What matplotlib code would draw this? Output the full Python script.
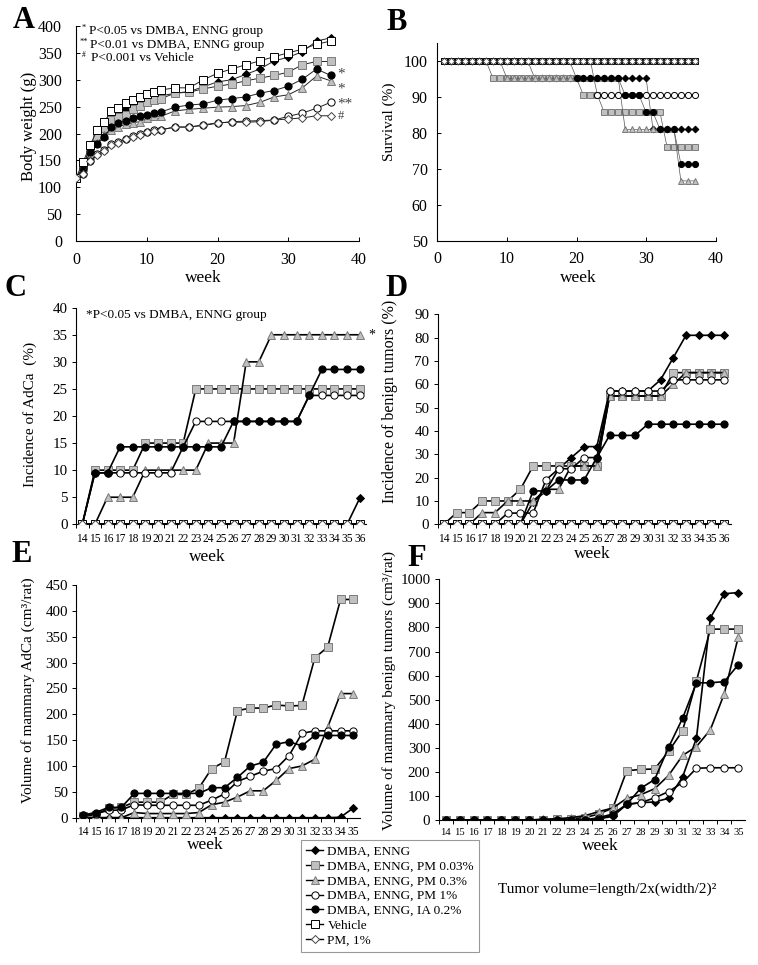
import matplotlib
matplotlib.use("Agg")
import matplotlib.pyplot as plt
from matplotlib.lines import Line2D

plt.rcParams['font.family'] = ['Liberation Serif', 'DejaVu Serif']

W, H = 758, 965

groups = ["DMBA, ENNG", "DMBA, ENNG, PM 0.03%", "DMBA, ENNG, PM 0.3%",
          "DMBA, ENNG, PM 1%", "DMBA, ENNG, IA 0.2%", "Vehicle", "PM, 1%"]

# ---------------- Panel A: body weight ----------------
weeks_a = [0, 1, 2, 3, 4, 5, 6, 7, 8, 9, 10, 11, 12, 14, 16, 18, 20, 22, 24, 26, 28, 30, 32, 34, 36]
bw_dmba = [117, 135, 178, 200, 215, 232, 238, 245, 252, 258, 262, 268, 270, 275, 278, 287, 296, 300, 310, 320, 335, 342, 352, 372, 378]
bw_pm003 = [117, 138, 175, 195, 210, 225, 230, 235, 245, 252, 258, 263, 265, 275, 277, 283, 288, 292, 298, 303, 308, 314, 328, 334, 334]
bw_pm03 = [117, 133, 160, 182, 198, 207, 212, 217, 220, 222, 228, 232, 232, 242, 245, 247, 249, 250, 252, 258, 268, 272, 285, 307, 298]
bw_pm1 = [117, 125, 148, 162, 170, 180, 185, 190, 195, 200, 203, 206, 207, 212, 212, 215, 219, 222, 223, 224, 225, 232, 238, 247, 258]
bw_ia = [117, 135, 165, 180, 193, 213, 220, 223, 228, 232, 235, 238, 240, 249, 253, 255, 262, 265, 268, 275, 280, 288, 301, 320, 308]
bw_vehicle = [117, 147, 178, 207, 222, 242, 247, 257, 262, 268, 273, 278, 281, 285, 285, 300, 312, 320, 328, 335, 343, 350, 357, 366, 372]
bw_pm = [117, 125, 148, 160, 168, 178, 183, 190, 193, 198, 202, 205, 207, 212, 212, 216, 220, 221, 221, 222, 225, 227, 229, 233, 233]

# ---------------- Panel B: survival ----------------
weeks_b = list(range(1, 38))
surv_dmba = [100, 100, 100, 100, 100, 100, 100, 100, 100, 100, 100, 100, 100,
             95.2, 95.2, 95.2, 95.2, 95.2, 95.2, 95.2, 95.2, 95.2, 95.2, 95.2, 95.2, 95.2, 95.2, 95.2, 95.2, 95.2,
             81.0, 81.0, 81.0, 81.0, 81.0, 81.0, 81.0]
surv_pm003 = [100, 100, 100, 100, 100, 100, 100,
              95.2, 95.2, 95.2, 95.2, 95.2, 95.2, 95.2, 95.2, 95.2, 95.2, 95.2, 95.2, 95.2,
              90.5, 90.5, 90.5,
              85.7, 85.7, 85.7, 85.7, 85.7, 85.7, 85.7, 85.7, 85.7,
              76.2, 76.2, 76.2, 76.2, 76.2]
surv_pm03 = [100, 100, 100, 100, 100, 100, 100, 100, 100,
             95.2, 95.2, 95.2, 95.2, 95.2, 95.2, 95.2, 95.2, 95.2, 95.2, 95.2, 95.2, 95.2, 95.2, 95.2, 95.2, 95.2,
             81.0, 81.0, 81.0, 81.0, 81.0, 81.0, 81.0, 81.0,
             66.7, 66.7, 66.7]
surv_pm1 = [100, 100, 100, 100, 100, 100, 100, 100, 100, 100, 100, 100, 100, 100, 100, 100, 100, 100, 100, 100, 100, 100,
            90.5, 90.5, 90.5, 90.5, 90.5, 90.5, 90.5, 90.5, 90.5, 90.5, 90.5, 90.5, 90.5, 90.5, 90.5]
surv_ia = [100, 100, 100, 100, 100, 100, 100, 100, 100, 100, 100, 100, 100, 100, 100, 100, 100, 100, 100,
           95.2, 95.2, 95.2, 95.2, 95.2, 95.2, 95.2,
           90.5, 90.5, 90.5,
           85.7, 85.7,
           81.0, 81.0, 81.0,
           71.4, 71.4, 71.4]
surv_vehicle = [100, 100, 100, 100, 100, 100, 100, 100, 100, 100, 100, 100, 100, 100, 100, 100, 100, 100, 100,
                100, 100, 100, 100, 100, 100, 100, 100, 100, 100, 100, 100, 100, 100, 100, 100, 100, 100]
surv_pm = [100, 100, 100, 100, 100, 100, 100, 100, 100, 100, 100, 100, 100, 100, 100, 100, 100, 100, 100,
           100, 100, 100, 100, 100, 100, 100, 100, 100, 100, 100, 100, 100, 100, 100, 100, 100, 100]

# ---------------- Panel C: incidence of AdCa ----------------
weeks_c = list(range(14, 37))
inc_ac_dmba = [0, 0, 0, 0, 0, 0, 0, 0, 0, 0, 0, 0, 0, 0, 0, 0, 0, 0, 0, 0, 0, 0, 4.8]
inc_ac_pm003 = [0, 10, 10, 10, 10, 15, 15, 15, 15, 25, 25, 25, 25, 25, 25, 25, 25, 25, 25, 25, 25, 25, 25]
inc_ac_pm03 = [0, 0, 5, 5, 5, 10, 10, 10, 10, 10, 15, 15, 15, 30, 30, 35, 35, 35, 35, 35, 35, 35, 35]
inc_ac_pm1 = [0, 9.5, 9.5, 9.5, 9.5, 9.5, 9.5, 9.5, 14.3, 19, 19, 19, 19, 19, 19, 19, 19, 19, 23.8, 23.8, 23.8, 23.8, 23.8]
inc_ac_ia = [0, 9.5, 9.5, 14.3, 14.3, 14.3, 14.3, 14.3, 14.3, 14.3, 14.3, 14.3, 19, 19, 19, 19, 19, 19, 23.8, 28.6, 28.6, 28.6, 28.6]
inc_ac_vehicle = [0, 0, 0, 0, 0, 0, 0, 0, 0, 0, 0, 0, 0, 0, 0, 0, 0, 0, 0, 0, 0, 0, 0]
inc_ac_pm = [0, 0, 0, 0, 0, 0, 0, 0, 0, 0, 0, 0, 0, 0, 0, 0, 0, 0, 0, 0, 0, 0, 0]

# ---------------- Panel D: incidence of benign tumors ----------------
weeks_d = list(range(14, 37))
inc_bn_dmba = [0, 0, 0, 0, 0, 0, 0, 9.5, 14.3, 23.8, 28.6, 33.3, 33.3, 57.1, 57.1, 57.1, 57.1, 61.9, 71.4, 81, 81, 81, 81]
inc_bn_pm003 = [0, 5, 5, 10, 10, 10, 15, 25, 25, 25, 25, 25, 25, 55, 55, 55, 55, 55, 65, 65, 65, 65, 65]
inc_bn_pm03 = [0, 0, 0, 5, 5, 10, 10, 10, 15, 15, 25, 25, 25, 55, 55, 55, 55, 55, 60, 65, 65, 65, 65]
inc_bn_pm1 = [0, 0, 0, 0, 0, 4.8, 4.8, 4.8, 19, 23.8, 23.8, 28.6, 28.6, 57.1, 57.1, 57.1, 57.1, 57.1, 61.9, 61.9, 61.9, 61.9, 61.9]
inc_bn_ia = [0, 0, 0, 0, 0, 0, 0, 14.3, 14.3, 19, 19, 19, 28.6, 38.1, 38.1, 38.1, 42.9, 42.9, 42.9, 42.9, 42.9, 42.9, 42.9]
inc_bn_vehicle = [0, 0, 0, 0, 0, 0, 0, 0, 0, 0, 0, 0, 0, 0, 0, 0, 0, 0, 0, 0, 0, 0, 0]
inc_bn_pm = [0, 0, 0, 0, 0, 0, 0, 0, 0, 0, 0, 0, 0, 0, 0, 0, 0, 0, 0, 0, 0, 0, 0]

# ---------------- Panel E: volume of AdCa ----------------
weeks_e = list(range(14, 36))
vol_ac_dmba = [0, 0, 0, 0, 0, 0, 0, 0, 0, 0, 0, 0, 0, 0, 0, 0, 0, 0, 0, 0, 1, 19]
vol_ac_pm003 = [3, 5, 18, 20, 30, 30, 30, 45, 45, 57, 95, 108, 207, 212, 212, 218, 216, 217, 309, 330, 422, 422]
vol_ac_pm03 = [0, 0, 0, 0, 10, 8, 8, 8, 8, 10, 25, 30, 40, 52, 52, 72, 95, 100, 113, 175, 240, 240]
vol_ac_pm1 = [5, 8, 14, 15, 25, 24, 24, 24, 24, 24, 34, 46, 70, 80, 90, 95, 120, 163, 168, 168, 168, 168]
vol_ac_ia = [5, 10, 20, 20, 47, 47, 47, 47, 47, 47, 58, 58, 78, 100, 107, 142, 147, 139, 159, 159, 159, 159]

# ---------------- Panel F: volume of benign tumors ----------------
weeks_f = list(range(14, 36))
vol_bn_dmba = [0, 0, 0, 0, 0, 0, 0, 0, 0, 0, 0, 5, 15, 65, 72, 75, 90, 178, 340, 840, 940, 945]
vol_bn_pm003 = [0, 0, 0, 0, 0, 0, 0, 2, 3, 5, 10, 25, 50, 205, 210, 212, 285, 370, 578, 793, 793, 793]
vol_bn_pm03 = [0, 0, 0, 0, 0, 0, 0, 3, 5, 10, 18, 35, 50, 90, 105, 130, 185, 268, 305, 375, 525, 760]
vol_bn_pm1 = [0, 0, 0, 0, 0, 0, 0, 0, 0, 0, 0, 10, 25, 65, 72, 92, 118, 155, 215, 217, 217, 217]
vol_bn_ia = [0, 0, 0, 0, 0, 0, 0, 0, 0, 0, 0, 5, 20, 65, 132, 168, 302, 422, 570, 570, 575, 645]

# ---------------- styles ----------------
GRAY_F = '#c0c0c0'
GRAY_E = '#7a7a7a'
STY = [
    dict(marker='D', mfc='black', mec='black', ms=4.0),
    dict(marker='s', mfc=GRAY_F, mec=GRAY_E, ms=5.2),
    dict(marker='^', mfc=GRAY_F, mec=GRAY_E, ms=5.6),
    dict(marker='o', mfc='white', mec='black', ms=5.2),
    dict(marker='o', mfc='black', mec='black', ms=5.2),
    dict(marker='s', mfc='white', mec='black', ms=5.2),
    dict(marker='D', mfc='white', mec='#444444', ms=4.0),
]

fig = plt.figure(figsize=(W / 100, H / 100), dpi=100)


def add_ax(l, r, t, b):
    return fig.add_axes([l / W, 1 - b / H, (r - l) / W, (b - t) / H])


def fx(px):
    return px / W


def fy(py):
    return 1 - py / H


def style_axes(ax):
    for s in ['top', 'right']:
        ax.spines[s].set_visible(False)
    for s in ['left', 'bottom']:
        ax.spines[s].set_linewidth(0.8)


def cat_axis(ax, weeks, fs):
    ax.set_xlim(weeks[0] - 0.5, weeks[-1] + 0.5)
    ax.set_xticks(weeks)
    ax.set_xticklabels([str(w) for w in weeks], fontsize=fs)
    ax.tick_params(axis='x', which='major', length=0, pad=6)
    ax.set_xticks([w + 0.5 for w in weeks[:-1]] + [weeks[0] - 0.5], minor=True)
    ax.tick_params(axis='x', which='minor', length=3, direction='out', width=0.7)
    ax.tick_params(axis='y', direction='out', length=3, width=0.7, labelsize=10.8, pad=3)


def plot_series(ax, x, series, idxs, lw, lc='black', ms_scale=1.0, z0=2):
    for k, (ys, i) in enumerate(zip(series, idxs)):
        st = dict(STY[i])
        st['ms'] = st['ms'] * ms_scale
        ax.plot(x, ys, color=lc, lw=lw, zorder=z0 + k, mew=0.7, **st)


# ---------------- A ----------------
axA = add_ax(76, 359, 26, 241)
style_axes(axA)
plot_series(axA, weeks_a, [bw_dmba, bw_pm003, bw_pm03, bw_pm1, bw_ia, bw_vehicle, bw_pm],
            range(7), lw=0.7, lc='#222222')
axA.set_xlim(0, 40)
axA.set_ylim(0, 400)
axA.set_xticks([0, 10, 20, 30, 40])
axA.set_yticks(range(0, 401, 50))
axA.tick_params(direction='in', length=3, width=0.7, labelsize=11.5)
axA.tick_params(axis='y', pad=10)
axA.tick_params(axis='x', pad=8)
ann_c = '#444444'
axA.annotate('*', (weeks_a[-1], bw_ia[-1]), xytext=(5, 1), textcoords='offset points',
             fontsize=11, va='center', ha='left', color=ann_c)
axA.annotate('*', (weeks_a[-1], bw_pm03[-1]), xytext=(5, -6), textcoords='offset points',
             fontsize=11, va='center', ha='left', color=ann_c)
axA.annotate('**', (weeks_a[-1], bw_pm1[-1]), xytext=(5, -1), textcoords='offset points',
             fontsize=11, va='center', ha='left', color=ann_c)
axA.annotate('#', (weeks_a[-1], bw_pm[-1]), xytext=(5, 0), textcoords='offset points',
             fontsize=9, va='center', ha='left', color=ann_c)

fig.text(fx(82), fy(28), '*', fontsize=6, va='center', ha='left')
fig.text(fx(89), fy(31), 'P<0.05 vs DMBA, ENNG group', fontsize=9.5, va='center', ha='left')
fig.text(fx(79.5), fy(42), '**', fontsize=6, va='center', ha='left')
fig.text(fx(90), fy(45), 'P<0.01 vs DMBA, ENNG group', fontsize=9.5, va='center', ha='left')
fig.text(fx(82), fy(55), '#', fontsize=5.5, va='center', ha='left')
fig.text(fx(91), fy(58), 'P<0.001 vs Vehicle', fontsize=9.5, va='center', ha='left')

# ---------------- B ----------------
axB = add_ax(437.3, 715.7, 43, 241)
style_axes(axB)
plot_series(axB, weeks_b, [surv_dmba, surv_pm003, surv_pm03, surv_pm1, surv_ia, surv_vehicle, surv_pm],
            range(7), lw=0.5, lc='#555555', ms_scale=0.85)
axB.set_xlim(0, 40)
axB.set_ylim(50, 105)
axB.set_xticks([0, 10, 20, 30, 40])
axB.set_yticks(range(50, 101, 10))
axB.tick_params(direction='in', length=3, width=0.7, labelsize=11.5)
axB.tick_params(axis='y', pad=7)
axB.tick_params(axis='x', pad=7)

# ---------------- C ----------------
axC = add_ax(76, 366, 307.7, 524.3)
style_axes(axC)
plot_series(axC, weeks_c, [inc_ac_dmba, inc_ac_pm003, inc_ac_pm03, inc_ac_pm1, inc_ac_ia, inc_ac_vehicle, inc_ac_pm],
            range(7), lw=1.2)
cat_axis(axC, weeks_c, 8.3)
axC.set_ylim(0, 40)
axC.set_yticks(range(0, 41, 5))
axC.annotate('*', (weeks_c[-1], inc_ac_pm03[-1]), xytext=(6, 0), textcoords='offset points',
             fontsize=10, va='center', ha='left')
fig.text(fx(86), fy(315), '*P<0.05 vs DMBA, ENNG group', fontsize=9.5, va='center', ha='left')

# ---------------- D ----------------
axD = add_ax(437.6, 730.6, 314.3, 524.3)
style_axes(axD)
plot_series(axD, weeks_d, [inc_bn_dmba, inc_bn_pm003, inc_bn_pm03, inc_bn_pm1, inc_bn_ia, inc_bn_vehicle, inc_bn_pm],
            range(7), lw=1.2)
cat_axis(axD, weeks_d, 8.3)
axD.set_ylim(0, 90)
axD.set_yticks(range(0, 91, 10))

# ---------------- E ----------------
axE = add_ax(76.3, 359.9, 585, 817.7)
style_axes(axE)
plot_series(axE, weeks_e, [vol_ac_dmba, vol_ac_pm003, vol_ac_pm03, vol_ac_pm1, vol_ac_ia],
            range(5), lw=1.2)
cat_axis(axE, weeks_e, 8.3)
axE.set_ylim(0, 450)
axE.set_yticks(range(0, 451, 50))

# ---------------- F ----------------
axF = add_ax(438.7, 745.2, 579.3, 820)
style_axes(axF)
plot_series(axF, weeks_f, [vol_bn_dmba, vol_bn_pm003, vol_bn_pm03, vol_bn_pm1, vol_bn_ia],
            range(5), lw=1.2)
cat_axis(axF, weeks_f, 7.6)
axF.set_ylim(0, 1000)
axF.set_yticks(range(0, 1001, 100))

# ---------------- axis titles ----------------
for (x, y) in [(203, 278), (578, 278), (207, 557), (592, 554), (205, 845), (600, 846)]:
    fig.text(fx(x), fy(y), 'week', fontsize=12.5, ha='center', va='center')

fig.text(fx(29), fy(126), 'Body weight (g)', fontsize=12, rotation=90, ha='center', va='center')
fig.text(fx(389), fy(122), 'Survival (%)', fontsize=11, rotation=90, ha='center', va='center')
fig.text(fx(30), fy(414), 'Incidence of AdCa  (%)', fontsize=11, rotation=90, ha='center', va='center')
fig.text(fx(390), fy(401), 'Incidence of benign tumors (%)', fontsize=11.5, rotation=90, ha='center', va='center')
fig.text(fx(28), fy(690), 'Volume of mammary AdCa (cm³/rat)', fontsize=11, rotation=90, ha='center', va='center')
fig.text(fx(389), fy(691), 'Volume of mammary benign tumors (cm³/rat)', fontsize=11, rotation=90, ha='center', va='center')

# ---------------- panel letters ----------------
for letter, x, y in [('A', 24, 21), ('B', 397, 22), ('C', 16, 288), ('D', 397, 289), ('E', 22, 555), ('F', 417, 559)]:
    fig.text(fx(x), fy(y), letter, fontsize=22, fontweight='bold', ha='center', va='center')

# ---------------- legend ----------------
handles = []
for i in range(7):
    st = dict(STY[i])
    handles.append(Line2D([0], [0], color='black', lw=1.0, mew=0.7, **st))
leg = fig.legend(handles, groups, loc='upper left', bbox_to_anchor=(fx(301), fy(840)),
                 fontsize=9.5, frameon=True, fancybox=False, edgecolor='#808080',
                 handlelength=1.3, handletextpad=0.3, labelspacing=0.2, borderpad=0.4,
                 borderaxespad=0)
leg.get_frame().set_linewidth(0.8)

fig.text(fx(498), fy(889), 'Tumor volume=length/2x(width/2)²', fontsize=11, ha='left', va='center')

fig.savefig('out.png', dpi=100)
